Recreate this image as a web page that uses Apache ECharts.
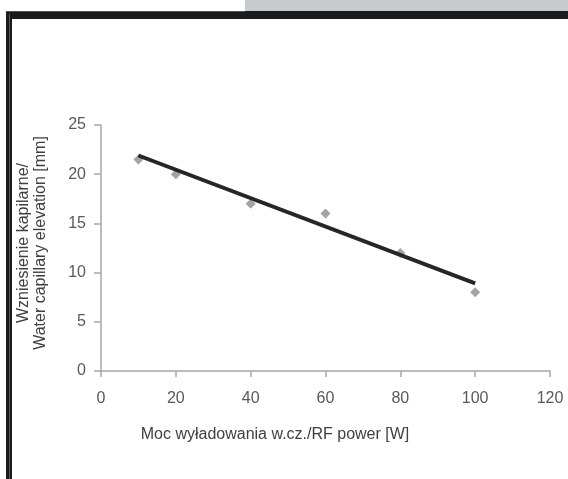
<!DOCTYPE html>
<html><head><meta charset="utf-8">
<script src="https://cdn.jsdelivr.net/npm/echarts@6/dist/echarts.min.js"></script>
<style>html,body{margin:0;padding:0;background:#fff}#c{width:568px;height:479px}</style>
</head><body><div id="c"></div>
<script>
const powerW = [10, 20, 40, 60, 80, 100];
const elevationMm = [21.5, 20, 17, 16, 12, 8];
const trendX = [10, 100];
const trendY = [21.9, 8.9];
const xTicks = [0, 20, 40, 60, 80, 100, 120];
const yTicks = [0, 5, 10, 15, 20, 25];
const xTitle = 'Moc wyładowania w.cz./RF power [W]';
const yTitle = 'Wzniesienie kapilarne/\nWater capillary elevation [mm]';

const chart = echarts.init(document.getElementById('c'), null, {renderer: 'canvas'});
const font = 'Liberation Sans, Arial, sans-serif';
const axisColor = '#a6a6a6';
chart.setOption({
  animation: false,
  grid: {left: 101, right: 18, top: 125, bottom: 108},
  xAxis: {
    type: 'value', min: xTicks[0], max: xTicks[xTicks.length - 1], interval: 20,
    axisLine: {show: true, lineStyle: {color: axisColor, width: 1.5}},
    axisTick: {show: true, length: 6, lineStyle: {color: axisColor, width: 1.5}},
    axisLabel: {color: '#595959', fontSize: 16, fontFamily: font, margin: 20},
    splitLine: {show: false}
  },
  yAxis: {
    type: 'value', min: yTicks[0], max: yTicks[yTicks.length - 1], interval: 5,
    axisLine: {show: true, lineStyle: {color: axisColor, width: 1.5}},
    axisTick: {show: true, length: 7, lineStyle: {color: axisColor, width: 1.5}},
    axisLabel: {color: '#595959', fontSize: 16, fontFamily: font, margin: 15},
    splitLine: {show: false}
  },
  series: [
    {
      type: 'scatter', symbol: 'diamond', symbolSize: 10,
      itemStyle: {color: '#8c8c8c'},
      data: powerW.map((x, i) => [x, elevationMm[i]]), z: 2
    },
    {
      type: 'line', symbol: 'none',
      lineStyle: {color: '#262626', width: 4},
      data: trendX.map((x, i) => [x, trendY[i]]), z: 3
    }
  ],
  graphic: [
    {type: 'rect', shape: {x: 245, y: 0, width: 323, height: 11}, style: {fill: '#c8cbce'}},
    {type: 'rect', shape: {x: 6, y: 11, width: 562, height: 8}, style: {fill: '#1c1c1c'}},
    {type: 'rect', shape: {x: 6, y: 11, width: 6, height: 468}, style: {fill: '#1c1c1c'}},
    {type: 'rect', shape: {x: 6, y: 11, width: 239, height: 1}, style: {fill: '#555'}},
    {type: 'rect', shape: {x: 9, y: 14, width: 1, height: 465}, style: {fill: '#555'}},
    {type: 'text', x: 275, y: 435, style: {text: xTitle, fill: '#404040', font: '16px ' + font, textAlign: 'center', textVerticalAlign: 'middle'}},
    {type: 'text', x: 32, y: 243, rotation: Math.PI / 2, style: {text: yTitle, fill: '#404040', font: '16px ' + font, textAlign: 'center', textVerticalAlign: 'middle', lineHeight: 17}}
  ]
});
</script></body></html>
